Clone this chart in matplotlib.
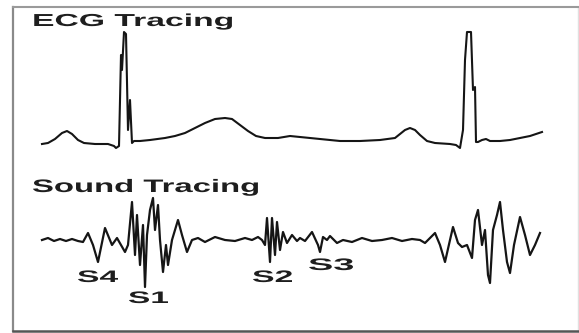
import matplotlib
matplotlib.use("Agg")
import matplotlib.pyplot as plt
import matplotlib.patheffects as pe
from matplotlib.transforms import Affine2D
import numpy as np

W, H = 579, 333

# ---- data (time in ms, amplitudes) ----
# ECG tracing: time (ms) and voltage (mV)
ecg_px_x = [42, 48, 55, 62, 67, 72, 78, 84, 95, 108, 114, 116, 119, 121, 122, 124, 126, 128, 130, 132,
            134, 140, 150, 165, 175, 185, 195, 205, 215, 225, 232, 240, 248, 256, 265, 278, 290, 300,
            320, 340, 360, 380, 395, 400, 405, 410, 415, 420, 427, 435, 450, 456, 460, 463, 465, 467,
            471, 473, 475, 476, 478, 482, 486, 490, 500, 510, 520, 530, 542]
ecg_px_y = [144, 143, 139, 133, 131, 134, 140, 143, 144, 144, 146, 148, 146, 55, 70, 32, 34, 130, 100, 143,
            141, 141, 140, 138, 136, 133, 128, 123, 119, 118, 119, 125, 131, 136, 138, 138, 136, 137,
            139, 141, 141, 140, 138, 134, 130, 128, 130, 135, 141, 143, 144, 145, 148, 130, 60, 32,
            32, 90, 87, 142, 142, 140, 139, 141, 141, 140, 138, 136, 132]
ecg_time = [(x - 42) * 2.5 for x in ecg_px_x]
ecg_mv = [(144 - y) / 80 for y in ecg_px_y]

# Heart sound tracing: time (ms) and amplitude (a.u.)
snd_px_x = [42, 48, 54, 60, 66, 72, 78, 83, 88, 93, 98, 105, 112, 117, 125, 128,
            132, 135, 137, 140, 143, 145, 147, 150, 153, 155, 158, 160, 163, 166, 168, 172, 178,
            182, 187, 192, 198, 205, 215, 225, 235, 245, 252, 258, 262,
            265, 267, 270, 272, 275, 277, 280, 283, 287, 292, 297, 300, 305, 312, 318, 320,
            323, 327, 330, 337, 343, 352, 362, 372, 382, 392, 402, 412, 420,
            425, 430, 435, 440, 445, 450, 453, 458, 462, 467, 472, 475, 478, 482, 485, 488,
            490, 493, 497, 500, 503, 507, 510, 514, 520, 525, 530, 535, 540]
snd_px_y = [240, 238, 241, 239, 241, 239, 241, 242, 233, 245, 262, 228, 245, 238, 252, 245,
            202, 255, 215, 265, 225, 287, 235, 210, 198, 230, 205, 240, 272, 245, 265, 240, 220,
            235, 252, 240, 238, 242, 237, 240, 241, 238, 240, 237, 240,
            245, 218, 262, 218, 255, 222, 250, 232, 243, 235, 241, 238, 241, 232, 245, 252,
            237, 240, 236, 243, 240, 242, 238, 241, 240, 238, 241, 239, 240,
            243, 238, 233, 245, 262, 240, 227, 243, 247, 245, 258, 220, 210, 245, 230, 275,
            283, 230, 215, 202, 230, 262, 273, 245, 217, 235, 255, 245, 233]
snd_time = [(x - 42) * 2.5 for x in snd_px_x]
snd_amp = [(240 - y) / 40 for y in snd_px_y]

titles = ["ECG Tracing", "Sound Tracing"]
sound_labels = ["S4", "S1", "S2", "S3"]
sound_label_time = [(77 - 42) * 2.5, (128 - 42) * 2.5, (252 - 42) * 2.5, (308 - 42) * 2.5]
sound_label_amp = [(240 - 282) / 40, (240 - 303) / 40, (240 - 282) / 40, (240 - 270) / 40]
label_widths = [41, 40, 40, 45]


class HStretch(pe.AbstractPathEffect):
    """Draw the text path stretched horizontally to a target pixel width."""
    def __init__(self, width_px):
        super().__init__()
        self.width_px = width_px

    def draw_path(self, renderer, gc, tpath, affine, rgbFace=None):
        v = affine.transform(tpath.vertices)
        if len(v) == 0:
            return
        x0, x1 = v[:, 0].min(), v[:, 0].max()
        sx = self.width_px / max(x1 - x0, 1e-6)
        aff = affine + Affine2D().translate(-x0, 0).scale(sx, 1).translate(x0, 0)
        renderer.draw_path(gc, tpath, aff, rgbFace)


fig = plt.figure(figsize=(W / 100, H / 100), dpi=100)
fig.patch.set_facecolor("white")

# time axis mapping: full figure width
t_lo, t_hi = (0 - 42) * 2.5, (W - 42) * 2.5

# ECG axes: top 170 px of figure
ax1 = fig.add_axes([0, 1 - 170 / H, 1, 170 / H])
ax1.set_xlim(t_lo, t_hi)
ax1.set_ylim((144 - 170) / 80, 144 / 80)
ax1.axis("off")
ax1.patch.set_alpha(0)
ax1.plot(ecg_time, ecg_mv, color="#151515", lw=1.5, solid_joinstyle="round")

# Sound axes: bottom 163 px
ax2 = fig.add_axes([0, 0, 1, 163 / H])
ax2.set_xlim(t_lo, t_hi)
ax2.set_ylim((240 - 333) / 40, (240 - 170) / 40)
ax2.axis("off")
ax2.patch.set_alpha(0)
ax2.plot(snd_time, snd_amp, color="#151515", lw=1.6, solid_joinstyle="round")

# Frame
fr = fig.add_axes([12.5 / W, 1 - 330.5 / H, (578 - 12.5) / W, (330.5 - 6.5) / H])
fr.set_xticks([]); fr.set_yticks([])
fr.patch.set_alpha(0)
fr.spines["left"].set_color("#8a8a8a"); fr.spines["left"].set_linewidth(1.6)
fr.spines["top"].set_color("#9a9a9a"); fr.spines["top"].set_linewidth(1.5)
fr.spines["right"].set_color("#e0e0e0"); fr.spines["right"].set_linewidth(1.0)
fr.spines["bottom"].set_color("#555555"); fr.spines["bottom"].set_linewidth(1.8)

font = dict(family=["Liberation Sans", "DejaVu Sans"], weight="bold", color="#1e1e1e")

ax1.text((32 - 42) * 2.5, (144 - 26) / 80, titles[0], fontsize=12.5, ha="left", va="baseline",
         path_effects=[HStretch(200)], **font)
ax2.text((32 - 42) * 2.5, (240 - 192) / 40, titles[1], fontsize=13, ha="left", va="baseline",
         path_effects=[HStretch(226)], **font)
for lab, t, a, w in zip(sound_labels, sound_label_time, sound_label_amp, label_widths):
    ax2.text(t, a, lab, fontsize=12, ha="left", va="baseline",
             path_effects=[HStretch(w)], **font)

fig.savefig("out.png", dpi=100, facecolor="white")
